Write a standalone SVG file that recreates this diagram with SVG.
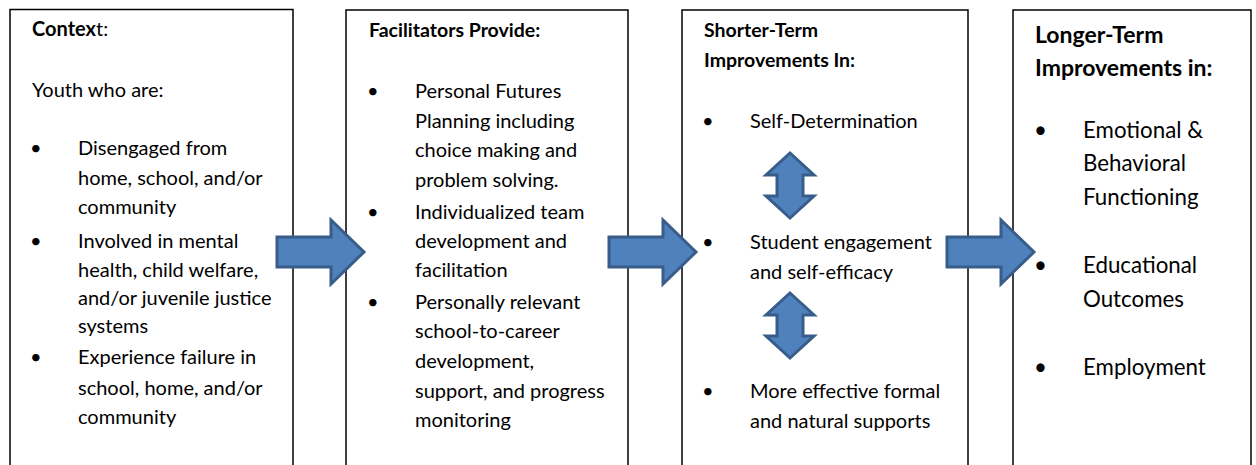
<svg xmlns="http://www.w3.org/2000/svg" width="1256" height="465" viewBox="0 0 1256 465">
<style>
.box{fill:none;stroke:#000;stroke-width:1.5}
.t{font-family:Lato,"Liberation Sans",sans-serif;font-size:20px;fill:#000}
.t4{font-family:Lato,"Liberation Sans",sans-serif;font-size:22.3px;fill:#000}
.h4{font-family:Lato,"Liberation Sans",sans-serif;font-size:23px;font-weight:bold;fill:#000}
.b{font-weight:bold}
.hb{font-weight:bold;font-size:19.5px}
.arr{fill:#4F81BD;stroke:#385D8A;stroke-width:3;stroke-linejoin:miter}
</style>
<rect width="1256" height="465" fill="#fff"/>
<g id="node-context">
<path class="box" d="M10,466V9.5H293V466"/>
<text class="t" x="32" y="36"><tspan class="b">Contex</tspan>t:</text>
<text class="t" x="32" y="97">Youth who are:</text>
<text class="t" x="30" y="155">•</text>
<text class="t" x="78" y="155">Disengaged from</text>
<text class="t" x="78" y="185">home, school, and/or</text>
<text class="t" x="78" y="214">community</text>
<text class="t" x="30" y="248">•</text>
<text class="t" x="78" y="248">Involved in mental</text>
<text class="t" x="78" y="277">health, child welfare,</text>
<text class="t" x="78" y="305">and/or juvenile justice</text>
<text class="t" x="78" y="333">systems</text>
<text class="t" x="30" y="364">•</text>
<text class="t" x="78" y="364">Experience failure in</text>
<text class="t" x="78" y="395">school, home, and/or</text>
<text class="t" x="78" y="424">community</text>
</g>
<g id="node-facilitators">
<path class="box" d="M346,466V10H628V466"/>
<text class="t hb" x="369" y="37">Facilitators Provide:</text>
<text class="t" x="367" y="98">•</text>
<text class="t" x="415" y="98">Personal Futures</text>
<text class="t" x="415" y="128">Planning including</text>
<text class="t" x="415" y="157">choice making and</text>
<text class="t" x="415" y="187">problem solving.</text>
<text class="t" x="367" y="219">•</text>
<text class="t" x="415" y="219">Individualized team</text>
<text class="t" x="415" y="248">development and</text>
<text class="t" x="415" y="277">facilitation</text>
<text class="t" x="367" y="309">•</text>
<text class="t" x="415" y="309">Personally relevant</text>
<text class="t" x="415" y="338">school-to-career</text>
<text class="t" x="415" y="368">development,</text>
<text class="t" x="415" y="398">support, and progress</text>
<text class="t" x="415" y="427">monitoring</text>
</g>
<g id="node-shorter">
<path class="box" d="M682,466V10H968V466"/>
<text class="t hb" x="704" y="37">Shorter-Term</text>
<text class="t hb" x="704" y="67">Improvements In:</text>
<text class="t" x="702" y="128">•</text>
<text class="t" x="750" y="128">Self-Determination</text>
<text class="t" x="702" y="249">•</text>
<text class="t" x="750" y="249">Student engagement</text>
<text class="t" x="750" y="279">and self-efficacy</text>
<text class="t" x="702" y="398">•</text>
<text class="t" x="750" y="398">More effective formal</text>
<text class="t" x="750" y="428">and natural supports</text>
</g>
<g id="node-longer">
<path class="box" d="M1013,466V10H1251V466"/>
<text class="h4" x="1035" y="43">Longer-Term</text>
<text class="h4" x="1035" y="76">Improvements in:</text>
<text class="t4" x="1034" y="138">•</text>
<text class="t4" x="1083" y="138">Emotional &amp;</text>
<text class="t4" x="1083" y="171">Behavioral</text>
<text class="t4" x="1083" y="205">Functioning</text>
<text class="t4" x="1034" y="273">•</text>
<text class="t4" x="1083" y="273">Educational</text>
<text class="t4" x="1083" y="307">Outcomes</text>
<text class="t4" x="1034" y="375">•</text>
<text class="t4" x="1083" y="375">Employment</text>
</g>
<g id="connectors">
<path class="arr" d="M277,237H331V220L364,252L331,284V267H277Z"/>
<path class="arr" d="M609,237H663V220L696,252L663,284V267H609Z"/>
<path class="arr" d="M947,237H1001V220L1034,252L1001,284V267H947Z"/>
<path class="arr" d="M790,153L814,175H803V196H814L790,218L766,196H777V175H766Z"/>
<path class="arr" d="M790,293L814,315H803V336H814L790,358L766,336H777V315H766Z"/>
</g>
</svg>
